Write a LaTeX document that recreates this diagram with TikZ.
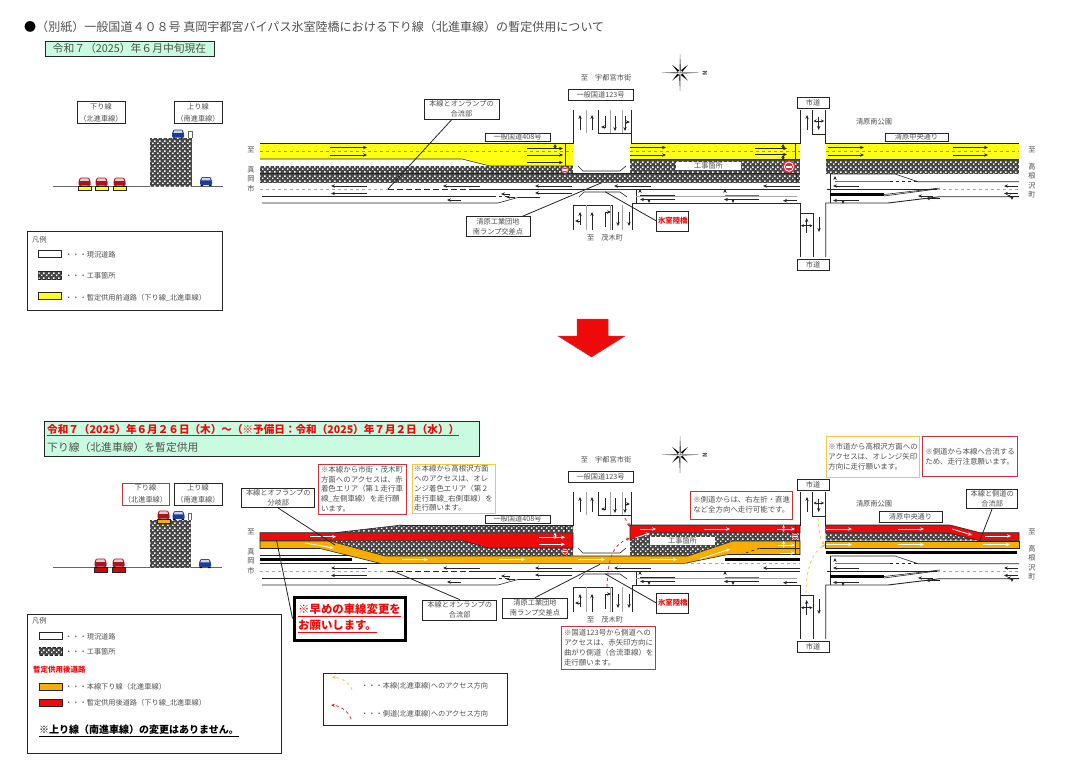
\documentclass[tikz,border=0pt]{standalone}
\usepackage{fontspec}
\setmainfont{Noto Sans CJK JP}
\usetikzlibrary{arrows.meta, patterns, calc}
\definecolor{Dark}{HTML}{262626}
\definecolor{TextGray}{HTML}{505050}
\definecolor{Road}{HTML}{FFFF14}
\definecolor{Amber}{HTML}{F7AE00}
\definecolor{Alert}{HTML}{EE0A0A}
\definecolor{Mint}{HTML}{C9FBE1}
\definecolor{Frame}{HTML}{C8343C}
\definecolor{Honey}{HTML}{F0C850}
\definecolor{CarRed}{HTML}{A8141E}
\definecolor{CarBlue}{HTML}{1E3C96}
\pgfdeclarepatternformonly{roadcheck}{\pgfpointorigin}{\pgfqpoint{4.6pt}{4.6pt}}{\pgfqpoint{4.6pt}{4.6pt}}{
    \pgfpathrectangle{\pgfpointorigin}{\pgfqpoint{1.6pt}{1.6pt}}
    \pgfpathrectangle{\pgfqpoint{2.3pt}{2.3pt}}{\pgfqpoint{1.6pt}{1.6pt}}
    \pgfusepath{fill}
}
\tikzset{
    works/.style={fill=black!72, postaction={pattern=roadcheck, pattern color=white}},
    roadline/.style={draw=Dark, line width=0.9pt},
    laneline/.style={draw=black!35, line width=0.5pt},
    edgeline/.style={draw=Dark, line width=0.6pt},
    lanearrow/.style={-{Stealth[length=4pt,width=3.4pt]}, line width=0.7pt, color=black!85},
    bothway/.style={{Stealth[length=3pt,width=3pt]}-{Stealth[length=3pt,width=3pt]}, line width=0.6pt, color=black!85},
    flowarrow/.style={-{Stealth[length=4pt,width=3.4pt]}, line width=0.8pt, color=white},
    leader/.style={draw=Dark, line width=0.8pt},
    sign/.style={rectangle, draw=Dark, line width=0.8pt, fill=white, text=TextGray, align=center, inner sep=0pt, font=\fontsize{7.2}{10}\selectfont},
    maptext/.style={text=TextGray, align=center, inner sep=0pt, font=\fontsize{7.2}{9.3}\selectfont},
    redcall/.style={rectangle, draw=Frame, line width=0.9pt, fill=white, text=TextGray, align=left, inner sep=0pt, font=\fontsize{7.45}{9.8}\selectfont},
    honeycall/.style={redcall, draw=Honey},
    legendtext/.style={anchor=west, text=TextGray, inner sep=0pt, font=\fontsize{7.2}{9}\selectfont},
    swatch/.style={draw=Dark, line width=0.8pt},
    accessway/.style={-{Stealth[length=4pt,width=3.4pt]}, dashed, line width=0.8pt},
}
\newcommand{\car}[3]{
    \begin{scope}[shift={(#1,#2)}]
        \fill[#3, rounded corners=1pt] (-6,4) -- (-6,0) -- (-4.5,-4) -- (4.5,-4) -- (6,0) -- (6,4) -- cycle;
        \fill[white!78!#3] (-3.7,-3.2) -- (3.7,-3.2) -- (4.6,-0.7) -- (-4.6,-0.7) -- cycle;
        \fill[black] (-5.5,4) rectangle (-3,5) (3,4) rectangle (5.5,5);
    \end{scope}
}
\newcommand{\noentry}[3]{
    \fill[Frame] (#1,#2) circle (#3pt);
    \fill[white] (#1,#2) circle (0.78*#3pt);
    \fill[Frame] (#1,#2) circle (0.62*#3pt);
    \fill[white] ($(#1,#2)+(-0.45*#3,-0.17*#3)$) rectangle ($(#1,#2)+(0.45*#3,0.17*#3)$);
}
\newcommand{\compassrose}{
    \begin{scope}[shift={(680,72.7)}]
        \foreach \a in {45,135,225,315} {
            \fill[black] (\a:11) -- (\a+25:2.5) -- (\a-25:2.5) -- cycle;
        }
        \foreach \a in {0,90,180,270} {
            \fill[black] (0,0) -- (\a:18.5) -- (\a+12:3.5) -- cycle;
            \fill[black!45] (0,0) -- (\a:18.5) -- (\a-12:3.5) -- cycle;
        }
    \end{scope}
    \node[maptext, rotate=90, font=\fontsize{6}{6}\selectfont\bfseries] (north) at (705,73) {N};
}
% plan parts common to both panels
\newcommand{\sharedplan}{
    % Rami
    \draw[roadline] (573,110) -- (573,143.5);
    \draw[roadline] (598,110) -- (598,133) -- (631,133);
    \draw[roadline] (631.5,110) -- (631.5,143.5);
    \draw[roadline] (573,230) -- (573,205) -- (612,205) -- (612,230);
    \draw[roadline] (632.5,230) -- (632.5,203) -- (800,203) -- (800,257);
    \draw[roadline] (800,213) -- (813,213) -- (813,257);
    \draw[roadline] (800,110) -- (800,143.5);
    \draw[roadline] (812.5,110) -- (812.5,134) -- (825,134);
    \draw[roadline] (825,110) -- (825,143.5);
    \draw[roadline] (825.7,257) -- (825.7,203) -- (888,203) -- (940,196.7) -- (1019,196.7);
    \foreach \xx in {586,610,622} {
        \draw[laneline] (\xx,110) -- (\xx,133);
        \draw[laneline] (\xx,205) -- (\xx,230);
    }
    % Corsie
    \draw[laneline, dashed] (260,189) -- (388,189);
    \draw[roadline, dashed, dash pattern=on 6pt off 3pt] (388,189) -- (475,189);
    \draw[edgeline] (475,189) -- (800,189);
    \draw[edgeline] (262,196) -- (493,196);
    \draw[edgeline, dashed] (493,196) -- (507,196);
    \draw[edgeline] (262,203) -- (498,203) -- (518,197.5) -- (540,197.5);
    \draw[edgeline] (636,189) -- (636,203);
    \draw[laneline] (636,196) -- (797,196);
    \draw[edgeline] (640,195) -- (675,195);
    \draw[line width=1pt, black!55] (725,195) -- (759,195);
    \draw[edgeline] (578,166) -- (583,171) -- (620,171) -- (626,166);
    \draw[edgeline] (579,197) -- (584,192) -- (620,192) -- (627,197);
    % Lato destro
    \draw[edgeline] (830.7,174) -- (830.7,203);
    \draw[edgeline] (830,174) -- (895,174) -- (918,181.7) -- (1019,181.7);
    \draw[line width=0.9pt, black!55] (835,181.7) -- (890,181.7);
    \draw[edgeline, dashed] (890,181.7) -- (918,181.7);
    \draw[edgeline] (827,189) -- (937,189);
    \draw[laneline, dashed] (937,189) -- (1019,189);
    \fill[black] (830,193) rectangle (884,195.8);
    \draw[edgeline] (884,196) -- (937,189);
    \draw[edgeline] (884,194.5) -- (940,188);
    % Frecce
    \foreach \xa/\xb/\yy in {367/331/186, 367/331/193.5, 480/443/186, 461/447/200, 572/535/186, 572/535/193, 651/614/186, 800/763/186, 797/783/200.7, 675/640/199.5, 759/724/199.5, 859/833/186, 859/833/200.5, 1018/1004/186, 1018/1004/193.5, 1019/1007/196, 933/918/196, 940/926/198.5, 510/501/194, 515/506/197} {
        \draw[lanearrow] (\xa,\yy) -- (\xb,\yy);
    }
    \foreach \xx/\ya/\yb in {580/130/115, 592/130/115, 615/116/131, 625/116/131, 580/225/212, 592/230/212, 618/212/226, 629/212/226, 807/130/115, 818.7/117/130, 806.7/233/218, 819/217/232, 640/192/189, 725/192/189, 835/179/176} {
        \draw[lanearrow] (\xx,\ya) -- (\xx,\yb);
    }
    \foreach \xx/\ya/\yb in {649/199/203, 733/199/203, 843/200/204, 1012/196/200} {
        \draw[lanearrow] (\xx,\ya) -- (\xx,\yb);
    }
    \draw[lanearrow] (605,116) -- (605,127) -- (601,127);
    \draw[lanearrow] (605,227) -- (605,212) -- (611,212);
    \draw[lanearrow] (625,122) -- (630,122);
    \draw[lanearrow] (580,221) -- (575,221);
    \draw[bothway] (813.5,121) -- (824,121);
    \draw[bothway] (801,225.7) -- (812.5,225.7);
    % Cartelli
    \node[sign, minimum width=65pt, minimum height=11pt] (road123) at (600.5,94.5) {一般国道123号};
    \node[sign, minimum width=65pt, minimum height=8pt] (road408) at (517.5,137) {一般国道408号};
    \node[sign, minimum width=32pt, minimum height=11pt] (cityRoadN) at (813,102.5) {市道};
    \node[sign, minimum width=32pt, minimum height=10.5pt] (cityRoadS) at (813,265) {市道};
    \node[sign, minimum width=32pt, minimum height=20pt, text=Alert, font=\fontsize{7.4}{10}\selectfont\bfseries] (himuro) at (672.8,221) {氷室陸橋};
    \coordinate (himuroEnd) at (605,191.7);
    \draw[leader] (himuro.west) -- (himuroEnd);
    \node[maptext] (toCity) at (606,77.7) {至\quad 宇都宮市街};
    \node[maptext] (toMotegi) at (605,238) {至\quad 茂木町};
    \node[maptext] (park) at (874,122) {清原南公園};
    \node[maptext] (toWest) at (251,150) {至};
    \node[maptext] (moka) at (251,179) {真\\岡\\市};
    \node[maptext] (toEast) at (1032,150) {至};
    \node[maptext] (takanezawa) at (1032,180.7) {高\\根\\沢\\町};
    \compassrose
}
\begin{document}
\begin{tikzpicture}[x=1pt, y=-1pt]
    \useasboundingbox (0,0) rectangle (1080,768);
    \fill[white] (0,0) rectangle (1080,768);

    % Titolo
    \node[anchor=west, text=TextGray, inner sep=0pt, font=\fontsize{12.04}{14}\selectfont] (title) at (24,27) {\textcolor{black}{●}（別紙）一般国道４０８号 真岡宇都宮バイパス氷室陸橋における下り線（北進車線）の暫定供用について};
    \node[draw=Dark, line width=0.9pt, fill=Mint, text=TextGray, inner sep=0pt, minimum width=169pt, minimum height=15pt, font=\fontsize{10.8}{12}\selectfont] (nowBox) at (129.5,48.5) {令和７（2025）年６月中旬現在};

    % Sezione prima
    \draw[edgeline, black!60] (52.5,186.3) -- (222.5,186.3);
    \fill[works] (150,138) rectangle (192,186);
    \draw[edgeline, black!60] (188,138) -- (188,131) -- (192,131) -- (192,138);
    \foreach \xx in {84.5,101.5,119.5} {
        \fill[Road] (\xx-6.5,186) rectangle (\xx+6.5,190.5);
        \draw[swatch] (\xx-6.5,186) rectangle (\xx+6.5,190.5);
        \car{\xx}{181.5}{CarRed}
    }
    \car{178}{133.5}{CarBlue}
    \car{206}{181}{CarBlue}
    \node[sign, minimum width=48pt, minimum height=22pt, font=\fontsize{7.2}{12}\selectfont] (downBefore) at (101,112.5) {下り線\\（北進車線）};
    \node[sign, minimum width=48pt, minimum height=22pt, font=\fontsize{7.2}{12}\selectfont] (upBefore) at (198,112.5) {上り線\\（南進車線）};

    % Legenda prima
    \draw[draw=Dark, line width=0.9pt, fill=white] (27,231.6) rectangle (222.5,310);
    \node[legendtext] (legendBefore) at (32,240) {凡例};
    \draw[swatch, fill=white] (38.6,250.6) rectangle (61.7,257.6);
    \draw[swatch, works] (38.6,271) rectangle (61.7,279);
    \draw[swatch, fill=Road] (38.6,292) rectangle (61.7,299);
    \node[legendtext] (legA) at (65,255) {・・・現況道路};
    \node[legendtext] (legB) at (65,276) {・・・工事箇所};
    \node[legendtext] (legC) at (65,297.5) {・・・暫定供用前道路（下り線\_北進車線）};

    % Pianta prima
    \fill[Road] (260,143.5) -- (573,143.5) -- (573,166) -- (490,166) -- (462,159) -- (260,159) -- cycle;
    \fill[Road] (630,143.5) rectangle (800,159);
    \fill[Road] (825.7,143.5) rectangle (1019,159);
    \fill[works] (260,166) rectangle (573,173);
    \fill[works] (260,173.5) rectangle (800,182.7);
    \fill[works] (630,159) rectangle (800,173.5);
    \fill[works] (825.7,159) rectangle (1019,174);
    \draw[roadline] (260,143.5) -- (573,143.5);
    \draw[roadline] (631,143.5) -- (800,143.5);
    \draw[roadline] (825,143.5) -- (1019,143.5);
    \draw[edgeline] (260,159) -- (462,159) -- (490,166) -- (573,166);
    \draw[edgeline] (260,173.2) -- (800,173.2);
    \draw[edgeline] (630,159) -- (800,159);
    \draw[edgeline] (825.7,159) -- (1019,159);
    \draw[edgeline] (565,143.5) -- (565,166);
    \draw[edgeline] (795,143.5) -- (795,159);
    \draw[edgeline] (796,173.5) -- (796,182.7);
    \foreach \xa/\xb in {260/573, 630/800, 825.7/1019} {
        \draw[black!45, line width=0.4pt, dashed] (\xa,151) -- (\xb,151);
    }
    \foreach \xa/\xb/\yy in {330/367/147.5, 330/367/155, 527/563/148.5, 527/563/155, 527/563/162.5, 630/666/147.5, 630/666/155, 755/787/148.5, 755/787/154.5, 828/864/147.5, 828/864/155, 953/988/147.5, 953/988/155} {
        \draw[lanearrow] (\xa,\yy) -- (\xb,\yy);
    }
    \draw[bothway] (555,144) -- (555,149);
    \draw[bothway] (783,144) -- (783,149);
    \draw[bothway] (783,155) -- (783,160);
    \noentry{565}{170}{3.8}
    \noentry{789}{166.7}{6.5}
    \node[rectangle, fill=white, text=TextGray, inner sep=0pt, minimum width=65pt, minimum height=8pt, font=\fontsize{7.2}{8}\selectfont] (worksBefore) at (708.5,166) {工事箇所};
    \sharedplan
    \node[sign, minimum width=63pt, minimum height=8pt] (kiyoBefore) at (916.5,137) {清原中央通り};
    \node[sign, minimum width=75pt, minimum height=20pt] (mergeBefore) at (461.5,109) {本線とオンランプの\\合流部};
    \coordinate (mergeBeforeEnd) at (388,189);
    \draw[leader] (mergeBefore) -- (mergeBeforeEnd);
    \node[sign, minimum width=64pt, minimum height=20pt] (rampBefore) at (498,226.7) {清原工業団地\\南ランプ交差点};
    \coordinate (rampBeforeEnd) at (601.7,182.7);
    \draw[leader] (rampBefore) -- (rampBeforeEnd);

    % Freccia
    \draw[draw=Frame, line width=0.5pt, fill=Alert] (577,319) -- (608,319) -- (608,336) -- (625,336) -- (591.5,357) -- (558,336) -- (577,336) -- cycle;

    % Fascia dopo
    \node[anchor=north west, draw=Dark, line width=1pt, fill=Mint, inner sep=0pt, minimum width=435pt, minimum height=35pt] (dateBox) at (44.3,420.7) {};
    \node[anchor=west, text=Alert, inner sep=0pt, font=\fontsize{10.6}{14}\selectfont\bfseries] (dateText) at (47,430) {\underline{令和７（2025）年６月２６日（木）～（※予備日：令和（2025）年７月２日（水））}};
    \node[anchor=west, text=TextGray, inner sep=0pt, font=\fontsize{10.8}{14}\selectfont] (dateSub) at (47,447) {下り線（北進車線）を暫定供用};

    % Sezione dopo
    \draw[edgeline, black!60] (52.5,567.5) -- (222,567.5);
    \fill[works] (150,520) rectangle (191,567.5);
    \draw[edgeline, black!60] (188,520) -- (188,513) -- (191,513) -- (191,520);
    \foreach \xx in {100.5,118.5} {
        \fill[Alert!85!black] (\xx-6.5,567) rectangle (\xx+6.5,572);
        \draw[swatch] (\xx-6.5,567) rectangle (\xx+6.5,572);
        \car{\xx}{562.5}{CarRed}
    }
    \fill[Amber] (157,519) rectangle (170,523);
    \draw[swatch] (157,519) rectangle (170,523);
    \car{163.5}{514.5}{CarRed}
    \car{178.5}{515}{CarBlue}
    \car{205}{563}{CarBlue}
    \node[sign, draw=Frame, minimum width=47pt, minimum height=22pt, font=\fontsize{7.2}{12}\selectfont] (downAfter) at (145.5,494) {下り線\\（北進車線）};
    \node[sign, minimum width=48pt, minimum height=22pt, font=\fontsize{7.2}{12}\selectfont] (upAfter) at (198,494) {上り線\\（南進車線）};

    % Legenda dopo
    \draw[draw=Dark, line width=0.9pt, fill=white] (27,614) rectangle (281,753);
    \node[legendtext] (legendAfter) at (32,620.5) {凡例};
    \draw[swatch, fill=white] (39,632.7) rectangle (62,639.7);
    \draw[swatch, works] (39,647) rectangle (62,655);
    \draw[swatch, fill=Amber] (39,683) rectangle (62,690);
    \draw[swatch, fill=Alert] (39,699) rectangle (62,706);
    \node[legendtext] (legD) at (65,636.5) {・・・現況道路};
    \node[legendtext] (legE) at (65,652) {・・・工事箇所};
    \node[legendtext, text=Alert, font=\fontsize{7.5}{9}\selectfont\bfseries] (legF) at (33,669.5) {暫定供用後道路};
    \node[legendtext] (legG) at (65,687) {・・・本線下り線（北進車線）};
    \node[legendtext] (legH) at (65,703) {・・・暫定供用後道路（下り線\_北進車線）};
    \node[legendtext, text=black, font=\fontsize{10}{13}\selectfont\bfseries] (legI) at (39,731) {\underline{※上り線（南進車線）の変更はありません。}};

    % Pianta dopo
    \fill[works] (335,532.7) -- (402,525) -- (573,525) -- (573,532.7) -- cycle;
    \fill[works] (330,540.7) -- (463,540.7) -- (488,548) -- (573,548) -- (573,556) -- (385,556) -- cycle;
    \fill[works] (630,540) -- (650,532.7) -- (800,532.7) -- (800,541) -- (733,541) -- (688,556) -- (630,556) -- cycle;
    \fill[works] (825.7,532.7) -- (947,532.7) -- (980,540.7) -- (825.7,540.7) -- cycle;
    \filldraw[fill=Alert, edgeline] (260,532.7) -- (573,532.7) -- (573,548) -- (488,548) -- (463,540.7) -- (260,540.7) -- cycle;
    \filldraw[fill=Alert, edgeline] (630,525) -- (800,525) -- (800,532.7) -- (650,532.7) -- (630,540) -- cycle;
    \filldraw[fill=Alert, edgeline] (825.7,525) -- (950,525) -- (980,532.7) -- (1019,532.7) -- (1019,540.7) -- (980,540.7) -- (947,532.7) -- (825.7,532.7) -- cycle;
    \filldraw[fill=Amber, edgeline] (260,541) -- (330,541) -- (385,556) -- (688,556) -- (733,541) -- (800,541) -- (800,554.5) -- (728,554.5) -- (685,563.3) -- (380,563.3) -- (320,548.5) -- (260,548.5) -- cycle;
    \filldraw[fill=Amber, edgeline] (825.7,541) rectangle (1019,548.3);
    \draw[edgeline] (402,525) -- (573,525);
    \draw[edgeline] (335,532.7) -- (402,525);
    \fill[black] (260,558) rectangle (352,561);
    \fill[black] (725,558) rectangle (800,561);
    \fill[black] (825.7,551) rectangle (1017,553.5);
    \draw[edgeline] (260,555) -- (350,555);
    \draw[edgeline] (260,563.3) -- (380,563.3);
    \draw[laneline, dashed] (685,563.5) -- (800,563.5);
    \draw[edgeline, dashed] (740,555) -- (760,548);
    \draw[edgeline] (760,548) -- (800,548);
    \draw[edgeline] (795.5,525) -- (795.5,554);
    \draw[edgeline] (565,525) -- (565,532.7);
    \foreach \xa/\xb/\yy in {310/336/536.7, 539/565/537.3, 539/565/544.3, 402/428/559.5, 499/525/559.5, 578/605/559.5, 650/677/559.5, 640/656/529, 704/730/529, 777/795/529, 778/795/545, 780/795/553, 826/852/529, 898/924/529, 826/852/544.5, 898/924/544.5, 983/1010/544.5, 985/1011/536} {
        \draw[flowarrow] (\xa,\yy) -- (\xb,\yy);
    }
    \draw[flowarrow] (305,543) -- (334,548);
    \draw[flowarrow] (952,529) -- (972,535);
    \draw[flowarrow] (635,538) -- (650,533);
    \draw[flowarrow] (700,559) -- (730,549);
    \draw[bothway, color=white] (783.5,525) -- (783.5,532);
    \draw[bothway, color=white] (783.5,541) -- (783.5,548);
    \draw[bothway, color=white] (555,532.7) -- (555,539);
    \noentry{565}{551.7}{3.6}
    \noentry{795}{536.7}{3.6}
    \node[rectangle, fill=white, text=TextGray, inner sep=0pt, minimum width=65pt, minimum height=8pt, font=\fontsize{7.2}{8}\selectfont] (worksAfter) at (682.5,541) {工事箇所};
    \begin{scope}[shift={(0,382)}]
        \sharedplan
    \end{scope}
    \draw[accessway, Frame] (607,587) .. controls (608,560) and (612,545) .. (630,538);
    \draw[accessway, Frame] (625,518) -- (630,527);
    \draw[accessway, Honey] (818,518) .. controls (819,530) and (820,540) .. (825,545);
    \draw[accessway, Honey] (806,593) .. controls (806,570) and (812,552) .. (825,545);
    \node[sign, minimum width=63pt, minimum height=11pt] (kiyoAfter) at (910.5,517) {清原中央通り};

    % Riquadri dopo
    \node[redcall, minimum width=88pt, minimum height=50pt] (noteRed) at (362,489) {※本線から市街・茂木町\\方面へのアクセスは、赤\\着色エリア（第１走行車\\線\_左側車線）を走行願\\います。};
    \node[honeycall, minimum width=83pt, minimum height=49pt] (noteOrange) at (453.5,488.5) {※本線から高根沢方面\\へのアクセスは、オレ\\ンジ着色エリア（第２\\走行車線\_右側車線）を\\走行願います。};
    \node[redcall, minimum width=94pt, minimum height=43pt] (noteRamp) at (608.7,647.5) {※国道123号から側道への\\アクセスは、赤矢印方向に\\曲がり側道（合流車線）を\\走行願います。};
    \node[redcall, minimum width=102pt, minimum height=28pt] (noteSide) at (741.7,505) {※側道からは、右左折・直進\\など全方向へ走行可能です。};
    \node[honeycall, minimum width=92.6pt, minimum height=41pt] (noteCity) at (873,456.7) {※市道から高根沢方面への\\アクセスは、オレンジ矢印\\方向に走行願います。};
    \node[redcall, minimum width=94.6pt, minimum height=40pt] (noteJoin) at (970,456.7) {※側道から本線へ合流する\\ため、走行注意願います。};
    \node[sign, minimum width=73pt, minimum height=19.5pt] (splitAfter) at (278.3,498) {本線とオフランプの\\分岐部};
    \coordinate (splitEnd) at (335,545);
    \draw[leader] (splitAfter.south) -- (splitEnd);
    \node[sign, minimum width=51pt, minimum height=19pt] (sideAfter) at (992.2,498.7) {本線と側道の\\合流部};
    \coordinate (sideEnd) at (980,540);
    \draw[leader] (sideAfter.south) -- (sideEnd);
    \node[sign, minimum width=74pt, minimum height=20pt] (mergeAfter) at (459.7,610) {本線とオンランプの\\合流部};
    \coordinate (mergeAfterEnd) at (392,570.7);
    \draw[leader] (mergeAfter.north) -- (mergeAfterEnd);
    \node[sign, minimum width=64.6pt, minimum height=20pt] (rampAfter) at (535,608) {清原工業団地\\南ランプ交差点};
    \coordinate (rampAfterEnd) at (600,564.3);
    \draw[leader] (rampAfter.north) -- (rampAfterEnd);

    % Avviso
    \node[draw=black, line width=3pt, fill=white, text=Alert, align=left, inner sep=0pt, minimum width=111pt, minimum height=43pt, font=\fontsize{11.4}{16}\selectfont\bfseries] (warnBox) at (349.5,618.5) {\underline{※早めの車線変更を}\\\underline{お願いします。}};
    \coordinate (warnEnd) at (276.7,541);
    \draw[leader] (warnBox.west) -- (warnEnd);

    % Legenda frecce
    \draw[draw=Dark, line width=0.9pt, fill=white] (323,673) rectangle (507,725);
    \draw[accessway, Honey] (352,690) .. controls (350,683) and (342,678) .. (332,677);
    \draw[accessway, Frame] (351,719) .. controls (349,712) and (341,706) .. (331,705);
    \node[legendtext] (legJ) at (361,686.3) {・・・本線(北進車線)へのアクセス方向};
    \node[legendtext] (legK) at (361,714) {・・・側道(北進車線)へのアクセス方向};
\end{tikzpicture}
\end{document}
